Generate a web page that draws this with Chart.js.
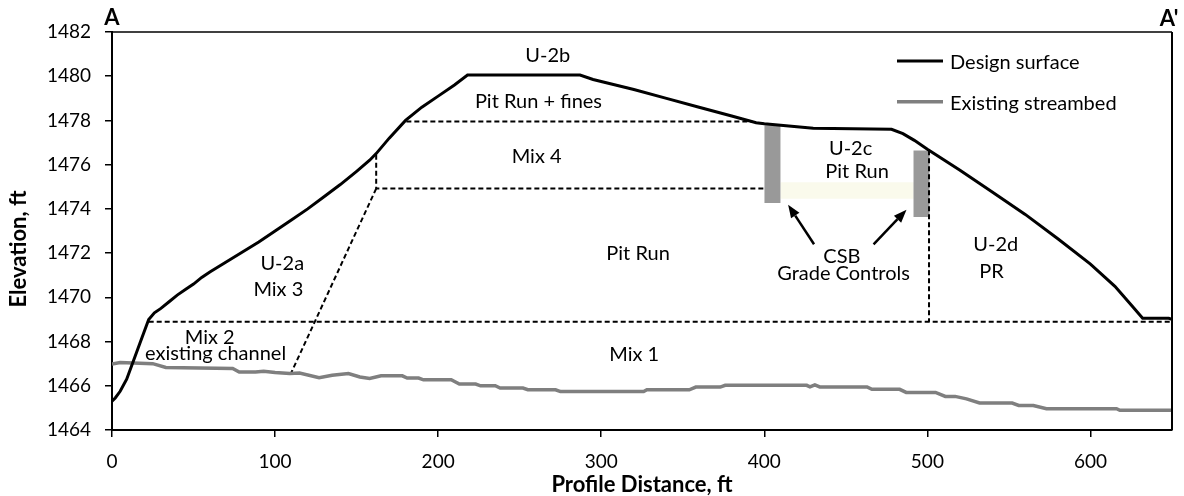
<!DOCTYPE html>
<html>
<head>
<meta charset="utf-8">
<script src="https://cdn.jsdelivr.net/npm/chart.js@4.4.1/dist/chart.umd.min.js"></script>
<style>
  html, body { margin: 0; padding: 0; background: #fff; }
  #wrap { width: 1184px; height: 496px; }
</style>
</head>
<body>
<div id="wrap"><canvas id="profileChart"></canvas></div>
<script>
// Section A-A': profile distance (ft) vs elevation (ft)
const designX = [0, 2, 5, 9, 13, 17, 20, 22.5, 26, 30, 35, 40, 45, 50, 55, 60, 70, 80, 90, 100, 110, 120, 130, 140, 150, 158, 162, 170, 180, 190, 200, 210, 218, 287, 295, 320, 340, 360, 380, 395, 400, 430, 478, 485, 492, 500, 520, 540, 560, 580, 600, 615, 625, 632, 648, 650];
const designY = [1465.3, 1465.45, 1465.75, 1466.3, 1467.1, 1467.9, 1468.5, 1469.0, 1469.3, 1469.5, 1469.8, 1470.1, 1470.35, 1470.6, 1470.9, 1471.15, 1471.6, 1472.05, 1472.5, 1473.0, 1473.5, 1474.0, 1474.55, 1475.1, 1475.7, 1476.2, 1476.5, 1477.2, 1478.0, 1478.6, 1479.1, 1479.6, 1480.05, 1480.05, 1479.85, 1479.4, 1479.0, 1478.6, 1478.2, 1477.9, 1477.85, 1477.65, 1477.6, 1477.4, 1477.1, 1476.7, 1475.75, 1474.75, 1473.75, 1472.65, 1471.5, 1470.5, 1469.65, 1469.05, 1469.05, 1469.0];

const streamX = [0, 5, 25, 33, 74, 78, 88, 93, 100, 109, 115, 127, 135, 145, 152, 158, 165, 178, 181, 188, 191, 208, 213, 223, 226, 235, 238, 252, 255, 272, 275, 326, 328, 354, 358, 373, 376, 426, 428, 431, 434, 463, 466, 483, 487, 505, 511, 517, 524, 532, 552, 556, 565, 573, 616, 618, 650];
const streamY = [1466.98, 1467.05, 1467.0, 1466.83, 1466.78, 1466.62, 1466.62, 1466.66, 1466.6, 1466.55, 1466.58, 1466.37, 1466.48, 1466.55, 1466.4, 1466.33, 1466.45, 1466.45, 1466.35, 1466.35, 1466.27, 1466.27, 1466.08, 1466.08, 1466.0, 1466.0, 1465.9, 1465.9, 1465.82, 1465.82, 1465.74, 1465.74, 1465.82, 1465.82, 1465.94, 1465.94, 1466.02, 1466.02, 1465.95, 1466.04, 1465.95, 1465.95, 1465.84, 1465.84, 1465.7, 1465.7, 1465.52, 1465.52, 1465.41, 1465.22, 1465.22, 1465.11, 1465.11, 1464.96, 1464.96, 1464.89, 1464.89];

// material layer boundaries (dashed)
const mix4Top = [[180.5, 1477.95], [392, 1477.95]];
const mix4Base = [[162, 1476.45], [162, 1474.92], [400, 1474.92]];
const mix3Edge = [[162, 1474.92], [110, 1466.6]];
const mix1Top = [[22.5, 1468.9], [650, 1468.9]];
const u2dEdge = [[501, 1476.65], [501, 1468.9]];

// CSB grade controls and the sill between them
const csbLeft = [[405, 1477.78], [405, 1474.27]];
const csbRight = [[496.4, 1476.64], [496.4, 1473.63]];
const csbSill = [[410, 1474.83], [491.6, 1474.83]];

const xTicks = [0, 100, 200, 300, 400, 500, 600];
const yTicks = [1464, 1466, 1468, 1470, 1472, 1474, 1476, 1478, 1480, 1482];

const zoneLabels = [
  { text: 'U-2b', x: 267.2, y: 1480.63 },
  { text: 'Pit Run + fines', x: 261.5, y: 1478.56 },
  { text: 'Mix 4', x: 260.4, y: 1476.07 },
  { text: 'Pit Run', x: 322.6, y: 1471.7 },
  { text: 'Mix 1', x: 320.2, y: 1467.1 },
  { text: 'U-2c', x: 452.9, y: 1476.45 },
  { text: 'Pit Run', x: 456.9, y: 1475.4 },
  { text: 'CSB', x: 447.6, y: 1471.55 },
  { text: 'Grade Controls', x: 448.6, y: 1470.8 },
  { text: 'U-2d', x: 541.9, y: 1472.08 },
  { text: 'PR', x: 539.3, y: 1470.87 },
  { text: 'U-2a', x: 104.4, y: 1471.25 },
  { text: 'Mix 3', x: 102.0, y: 1470.04 },
  { text: 'Mix 2', x: 59.9, y: 1467.89 },
  { text: 'existing channel', x: 63.5, y: 1467.18 }
];
const arrows = [
  { from: [430.5, 1472.4], to: [414.6, 1474.19] },
  { from: [467.0, 1472.4], to: [487.2, 1473.96] }
];

function pts(xs, ys) {
  return xs.map((x, i) => ({ x: x, y: ys[i] }));
}
function pairs(list) {
  return list.map(p => ({ x: p[0], y: p[1] }));
}
function dashed(data) {
  return { data: pairs(data), borderColor: '#000', borderWidth: 2, borderDash: [5, 3], pointRadius: 0, showLine: true };
}

const overlay = {
  id: 'overlay',
  afterDraw(chart) {
    const { ctx, chartArea: a, scales: { x, y } } = chart;
    ctx.save();
    // frame top + right
    ctx.strokeStyle = '#000';
    ctx.lineWidth = 1.5;
    ctx.beginPath();
    ctx.moveTo(a.left, a.top);
    ctx.lineTo(a.right, a.top);
    ctx.stroke();
    ctx.lineWidth = 2;
    ctx.beginPath();
    ctx.moveTo(a.right, a.top);
    ctx.lineTo(a.right, a.bottom);
    ctx.stroke();

    ctx.fillStyle = '#000';
    ctx.textAlign = 'center';
    ctx.textBaseline = 'alphabetic';
    ctx.font = 'bold 22px Lato';
    ctx.fillText('A', a.left, 25);
    ctx.fillText("A'", a.right - 3, 26);

    ctx.font = '20px Lato';
    zoneLabels.forEach(l => ctx.fillText(l.text, x.getPixelForValue(l.x), y.getPixelForValue(l.y)));

    // arrows to the grade controls
    ctx.lineWidth = 2.5;
    arrows.forEach(ar => {
      const x0 = x.getPixelForValue(ar.from[0]), y0 = y.getPixelForValue(ar.from[1]);
      const x1 = x.getPixelForValue(ar.to[0]), y1 = y.getPixelForValue(ar.to[1]);
      const ang = Math.atan2(y1 - y0, x1 - x0);
      const hl = 13, hw = 5;
      const bx = x1 - hl * Math.cos(ang), by = y1 - hl * Math.sin(ang);
      ctx.beginPath();
      ctx.moveTo(x0, y0);
      ctx.lineTo(bx, by);
      ctx.stroke();
      ctx.beginPath();
      ctx.moveTo(x1, y1);
      ctx.lineTo(bx + hw * Math.sin(ang), by - hw * Math.cos(ang));
      ctx.lineTo(bx - hw * Math.sin(ang), by + hw * Math.cos(ang));
      ctx.closePath();
      ctx.fill();
    });

    // legend
    ctx.textAlign = 'left';
    ctx.font = '20px Lato';
    [0, 1].forEach((di, i) => {
      const ds = chart.data.datasets[di];
      const ly = 61 + i * 40.7;
      ctx.strokeStyle = ds.borderColor;
      ctx.lineWidth = ds.borderWidth;
      ctx.beginPath();
      ctx.moveTo(897, ly);
      ctx.lineTo(943, ly);
      ctx.stroke();
      ctx.fillStyle = '#000';
      ctx.fillText(ds.label, 950, ly + 8);
    });

    // y axis title
    ctx.translate(19, 249);
    ctx.rotate(-Math.PI / 2);
    ctx.textAlign = 'center';
    ctx.textBaseline = 'middle';
    ctx.font = 'bold 22px Lato';
    ctx.fillText('Elevation, ft', 0, 0);
    ctx.restore();
  }
};

function drawChart() {
  const ctx = document.getElementById('profileChart').getContext('2d');
  new Chart(ctx, {
    type: 'scatter',
    data: {
      datasets: [
        { label: 'Design surface', data: pts(designX, designY), borderColor: '#000', borderWidth: 3, pointRadius: 0, showLine: true },
        { label: 'Existing streambed', data: pts(streamX, streamY), borderColor: '#7f7f7f', borderWidth: 3.5, pointRadius: 0, showLine: true },
        dashed(mix4Top),
        dashed(mix4Base),
        dashed(mix3Edge),
        dashed(mix1Top),
        dashed(u2dEdge),
        { data: pairs(csbLeft), borderColor: '#999999', borderWidth: 16, borderCapStyle: 'butt', pointRadius: 0, showLine: true },
        { data: pairs(csbRight), borderColor: '#999999', borderWidth: 16, borderCapStyle: 'butt', pointRadius: 0, showLine: true },
        { data: pairs(csbSill), borderColor: '#fafaec', borderWidth: 16.5, borderCapStyle: 'butt', pointRadius: 0, showLine: true }
      ]
    },
    options: {
      responsive: true,
      maintainAspectRatio: false,
      animation: false,
      devicePixelRatio: 1,
      layout: { padding: { left: 0, right: 12, top: 32, bottom: 0 } },
      plugins: { legend: { display: false }, tooltip: { enabled: false } },
      scales: {
        x: {
          type: 'linear',
          min: 0,
          max: 650,
          afterBuildTicks: s => { s.ticks = xTicks.map(v => ({ value: v })); },
          afterFit: s => { s.height = 66; },
          grid: { drawOnChartArea: false, tickLength: 7, color: '#000', lineWidth: 1.5 },
          border: { color: '#000', width: 2 },
          ticks: { color: '#000', font: { family: 'Lato', size: 19 }, padding: 13, maxRotation: 0, callback: v => String(v) },
          title: { display: true, text: 'Profile Distance, ft', color: '#000', font: { family: 'Lato', size: 22, weight: 'bold', lineHeight: 1 }, padding: 0 }
        },
        y: {
          min: 1464,
          max: 1482,
          afterBuildTicks: s => { s.ticks = yTicks.map(v => ({ value: v })); },
          afterFit: s => { s.width = 112; },
          grid: { drawOnChartArea: false, tickLength: 7, color: '#000', lineWidth: 1.5 },
          border: { color: '#000', width: 2 },
          ticks: { color: '#000', font: { family: 'Lato', size: 19 }, padding: 14, callback: v => String(v) }
        }
      }
    },
    plugins: [overlay]
  });
}

Promise.all([
  document.fonts.load('20px Lato'),
  document.fonts.load('bold 20px Lato')
]).then(drawChart, drawChart);
</script>
</body>
</html>
